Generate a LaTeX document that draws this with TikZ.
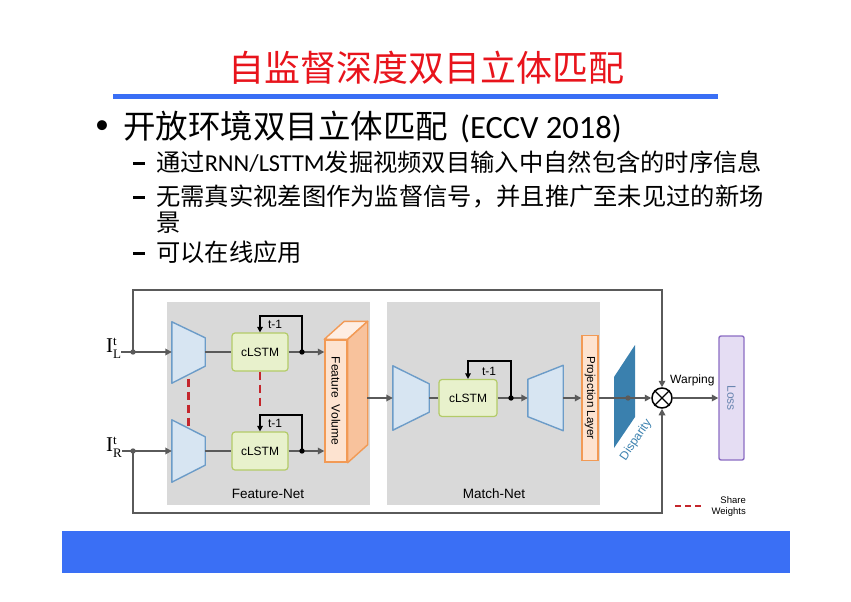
\documentclass[tikz,border=0pt]{standalone}
\usepackage{fontspec}
\setmainfont{Carlito}
\newfontfamily\cjkfont{Noto Sans CJK SC}
\newfontfamily\diafont{Liberation Sans}
\newfontfamily\serfont{Liberation Serif}
\usepackage{tikz}
\usetikzlibrary{positioning,calc,arrows.meta}

\definecolor{titlered}{HTML}{E8141C}
\definecolor{barblue}{HTML}{3A6FF5}
\definecolor{netgray}{HTML}{D9D9D9}
\definecolor{wiregray}{HTML}{5A5A5A}
\definecolor{coderfill}{HTML}{D7E5F2}
\definecolor{coderline}{HTML}{6C9CC8}
\definecolor{cellfill}{HTML}{E8F1CC}
\definecolor{cellline}{HTML}{B3CB68}
\definecolor{peach}{HTML}{FDE3D0}
\definecolor{peachdark}{HTML}{F8C29C}
\definecolor{orangeline}{HTML}{F29A55}
\definecolor{dispblue}{HTML}{3A80AE}
\definecolor{lossfill}{HTML}{E5DDF3}
\definecolor{lossline}{HTML}{8B6CC3}
\definecolor{losstext}{HTML}{6A86B0}
\definecolor{sharered}{HTML}{C4262C}

\newcommand{\inimg}[1]{{\serfont\fontsize{21}{21}\selectfont I}\rlap{\raisebox{7pt}{\serfont\fontsize{13}{13}\selectfont t}}\raisebox{-6pt}{\serfont\fontsize{13}{13}\selectfont #1}}

\begin{document}
\begin{tikzpicture}[x=1pt,y=-1pt,
    flow/.style={draw=wiregray,line width=2.1pt,-{Triangle[length=6.5pt,width=6.5pt]}},
    wire/.style={draw=wiregray,line width=2.1pt},
    recur/.style={draw=black,line width=1.5pt,-{Triangle[length=5.5pt,width=5.5pt]}},
    share/.style={draw=sharered,line width=2.2pt,dash pattern=on 8pt off 5pt},
    netbox/.style={fill=netgray,draw=none,minimum height=203pt},
    coder/.style={draw=none,inner sep=0pt},
    coderpoly/.style={fill=coderfill,draw=coderline,line width=1.4pt,line join=round},
    cell/.style={rounded corners=3pt,draw=cellline,fill=cellfill,line width=1.2pt,
      minimum width=56pt,minimum height=38pt,inner sep=0pt,
      font=\diafont\fontsize{12}{12}\selectfont},
    slab/.style={fill=peach,draw=orangeline,line width=1.4pt,inner sep=0pt},
    dialbl/.style={font=\diafont\fontsize{12}{12}\selectfont,inner sep=0pt},
    sub/.style={anchor=base west,inner sep=0pt,font=\fontsize{24.3}{26}\selectfont},
    dashmark/.style={anchor=base,inner sep=0pt}
  ]
  \useasboundingbox (0,0) rectangle (851,602);

  % title and text
  \node[text=titlered,font=\cjkfont\fontsize{36}{36}\selectfont] (title) at (426,68) {自监督深度双目立体匹配};
  \fill[barblue] (113,94) rectangle (718,99);
  \node[anchor=center,font=\fontsize{28}{28}\selectfont] (bullet) at (102,127) {•};
  \node[anchor=west,inner sep=0pt,font=\fontsize{32.5}{32}\selectfont] (head) at (123,127)
    {{\cjkfont 开放环境双目立体匹配}\hspace{12pt}(ECCV 2018)};
  \node[dashmark] (d1) at (139,171) {\rule[6.5pt]{12pt}{2.4pt}};
  \node[sub] (s1) at (156,171) {{\cjkfont 通过}RNN/LSTTM{\cjkfont 发掘视频双目输入中自然包含的时序信息}};
  \node[dashmark] (d2) at (139,205) {\rule[6.5pt]{12pt}{2.4pt}};
  \node[sub] (s2) at (156,205) {\cjkfont 无需真实视差图作为监督信号，并且推广至未见过的新场};
  \node[sub] (s2b) at (156,231) {\cjkfont 景};
  \node[dashmark] (d3) at (139,261) {\rule[6.5pt]{12pt}{2.4pt}};
  \node[sub] (s3) at (156,261) {\cjkfont 可以在线应用};
  \fill[barblue] (62,531) rectangle (790,573);

  % network blocks
  \node[netbox,minimum width=203pt] (fnet) at (268.5,403.5) {};
  \node[netbox,minimum width=213pt] (mnet) at (493.5,403.5) {};
  \node[font=\diafont\fontsize{13.5}{14}\selectfont] at (268,494) {Feature-Net};
  \node[font=\diafont\fontsize{13.5}{14}\selectfont] at (494,494) {Match-Net};

  \node[inner sep=0pt,anchor=base west] (IL) at (106,352) {\inimg{L}};
  \node[inner sep=0pt,anchor=base west] (IR) at (106,451) {\inimg{R}};
  \coordinate (splitL) at (133,352);
  \coordinate (splitR) at (133,451);
  \coordinate (topC) at (662,290);
  \coordinate (botC) at (662,513);

  \node[coder,minimum width=33pt,minimum height=61pt] (encL) at (188.5,352.5) {};
  \node[coder,minimum width=33pt,minimum height=62pt] (encR) at (188.5,451) {};
  \node[coder,minimum width=36pt,minimum height=64pt] (encM) at (411,398) {};
  \node[coder,minimum width=35pt,minimum height=65pt] (dec) at (545.5,398) {};

  \node[cell] (cellL) at (260,352) {cLSTM};
  \node[cell] (cellR) at (260,451) {cLSTM};
  \node[cell,minimum width=58pt,minimum height=37pt] (cellM) at (468,398) {cLSTM};
  \coordinate (dotL) at (302,352);
  \coordinate (dotR) at (302,451);
  \coordinate (dotM) at (511,398);

  % shared weights
  \draw[share] (encL.center) -- (encR.center);
  \draw[share] (cellL.south) -- ++(0,38);

  \draw[coderpoly] (encL.north west) -- ([yshift=-16pt]encL.north east)
    -- ([yshift=17pt]encL.south east) -- (encL.south west) -- cycle;
  \draw[coderpoly] (encR.north west) -- ([yshift=-17pt]encR.north east)
    -- ([yshift=17pt]encR.south east) -- (encR.south west) -- cycle;
  \draw[coderpoly] (encM.north west) -- ([yshift=-18pt]encM.north east)
    -- ([yshift=18pt]encM.south east) -- (encM.south west) -- cycle;
  \draw[coderpoly] ([yshift=-14pt]dec.north west) -- (dec.north east)
    -- (dec.south east) -- ([yshift=14pt]dec.south west) -- cycle;

  % feature volume
  \node[slab,minimum width=22pt,minimum height=122pt] (fvol) at (336,401) {};
  \fill[peach!60!white,draw=orangeline,line width=1.4pt,line join=round]
    (fvol.north west) -- ([xshift=20pt,yshift=18pt]fvol.north west)
    -- ([xshift=20pt,yshift=18pt]fvol.north east) -- (fvol.north east) -- cycle;
  \fill[peachdark,draw=orangeline,line width=1.4pt,line join=round]
    (fvol.north east) -- ([xshift=20pt,yshift=18pt]fvol.north east)
    -- ([xshift=20pt,yshift=18pt]fvol.south east) -- (fvol.south east) -- cycle;
  \node[dialbl,rotate=-90] at (fvol.center) {Feature\ \ Volume};
  \coordinate (fvout) at (367,398);

  \node[slab,minimum width=16pt,minimum height=125pt] (proj) at (590,398) {};
  \node[dialbl,rotate=-90,font=\diafont\fontsize{11.5}{12}\selectfont] at (proj.center) {Projection Layer};

  \fill[dispblue] (614,377) -- (635,345) -- (635,417) -- (614,448) -- cycle;
  \node[dialbl,rotate=56,text=dispblue] (displbl) at (636,440) {Disparity};
  \coordinate (dispdot) at (628,398);

  \node[circle,draw=black,line width=1.5pt,minimum size=20pt,inner sep=0pt] (warp) at (662,398) {};
  \draw[line width=1.2pt] (warp.45) -- (warp.225) (warp.135) -- (warp.315);
  \node[dialbl,anchor=south west] at (670,386) {Warping};

  \node[rounded corners=2pt,fill=lossfill,draw=lossline,line width=1.4pt,
    minimum width=25pt,minimum height=124pt,inner sep=0pt] (loss) at (731.5,398) {};
  \node[dialbl,rotate=-90,text=losstext] at (loss.center) {Loss};

  % input paths and skip lines
  \draw[wire] (IL.east |- splitL) -- (splitL);
  \draw[wire] (IR.east |- splitR) -- (splitR);
  \draw[flow] (splitL) -- (encL.west |- splitL);
  \draw[flow] (splitR) -- (encR.west |- splitR);
  \draw[flow] (splitL) |- (topC) -- (warp.north);
  \draw[flow] (splitR) |- (botC) -- (warp.south);
  \fill[wiregray] (splitL) circle (2.7pt) (splitR) circle (2.7pt);

  % feature net
  \draw[wire] (encL.east |- cellL) -- (cellL.west);
  \draw[wire] (encR.east |- cellR) -- (cellR.west);
  \draw[wire] (cellL.east) -- (dotL);
  \draw[wire] (cellR.east) -- (dotR);
  \draw[flow] (dotL) -- (fvol.west |- dotL);
  \draw[flow] (dotR) -- (fvol.west |- dotR);
  \draw[recur] (dotL) -- ++(0,-36) -| (cellL.north);
  \draw[recur] (dotR) -- ++(0,-36) -| (cellR.north);
  \fill (dotL) circle (2.7pt) (dotR) circle (2.7pt);
  \node[dialbl] at (275,324) {t-1};
  \node[dialbl] at (275,423) {t-1};

  % match net
  \draw[flow] (fvout) -- (encM.west);
  \draw[wire] (encM.east) -- (cellM.west);
  \draw[wire] (cellM.east) -- (dotM);
  \draw[flow] (dotM) -- (dec.west);
  \draw[recur] (dotM) -- ++(0,-37) -| (cellM.north);
  \fill (dotM) circle (2.7pt);
  \node[dialbl] at (489,371) {t-1};
  \draw[flow] (dec.east) -- (proj.west);
  \draw[wire] (proj.east) -- (dispdot);
  \fill[wiregray] (dispdot) circle (2.7pt);
  \draw[flow] (dispdot) -- (warp.west);
  \draw[flow] (warp.east) -- (loss.west);

  % legend
  \coordinate (legA) at (675,506);
  \coordinate (legB) at (703,506);
  \draw[share,line width=1.6pt,dash pattern=on 6pt off 4pt] (legA) -- (legB);
  \node[anchor=east,align=right,inner sep=0pt,font=\diafont\fontsize{9.5}{11}\selectfont] (leg) at (746,507) {Share\\Weights};
\end{tikzpicture}
\end{document}
